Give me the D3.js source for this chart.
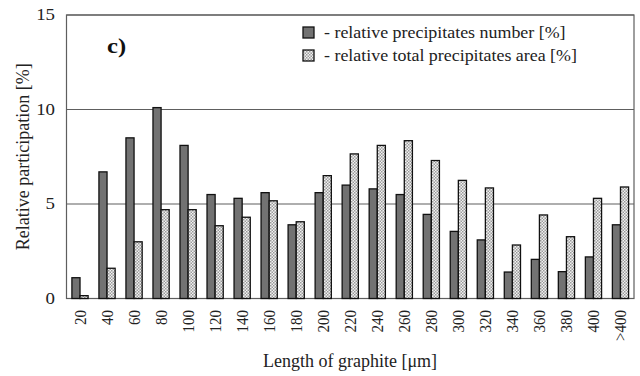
<!DOCTYPE html>
<html>
<head>
<meta charset="utf-8">
<script src="https://cdn.jsdelivr.net/npm/d3@7"></script>
<style>
  body { margin: 0; background: #fff; }
  svg { display: block; font-family: "Liberation Serif", "DejaVu Serif", serif; }
</style>
</head>
<body>
<svg width="640" height="376"></svg>
<script>
const categories = ["20", "40", "60", "80", "100", "120", "140", "160", "180", "200", "220",
  "240", "260", "280", "300", "320", "340", "360", "380", "400", ">400"]
const numberValues = [1.1, 6.7, 8.5, 10.1, 8.1, 5.5, 5.3, 5.6, 3.9, 5.6, 6.0,
  5.8, 5.5, 4.45, 3.55, 3.1, 1.4, 2.07, 1.42, 2.2, 3.9]
const areaValues = [0.15, 1.6, 3.0, 4.7, 4.7, 3.85, 4.3, 5.17, 4.06, 6.5, 7.65,
  8.1, 8.35, 7.3, 6.25, 5.85, 2.83, 4.42, 3.27, 5.3, 5.9]
const yTicks = [0, 5, 10, 15]
const seriesNames = ["- relative precipitates number [%]", "- relative total precipitates area [%]"]

const LEFT = 66.5, RIGHT = 634, TOP = 15, BOTTOM = 298.5
// the scanned figure is a bit wider than tall, so text glyphs are stretched
const STRETCH = 1.18

const svg = d3.select("svg")

// checkered fill for the area series
const defs = svg.append("defs")
const pat = defs.append("pattern")
  .attr("id", "checker")
  .attr("width", 3).attr("height", 3)
  .attr("patternUnits", "userSpaceOnUse")
pat.append("rect").attr("width", 3).attr("height", 3).attr("fill", "#f2f2f2")
pat.append("rect").attr("width", 1.5).attr("height", 1.5).attr("fill", "#9a9a9a")
pat.append("rect").attr("x", 1.5).attr("y", 1.5).attr("width", 1.5).attr("height", 1.5).attr("fill", "#9a9a9a")

const x = d3.scaleBand().domain(categories).range([LEFT, RIGHT]).paddingInner(0.4).paddingOuter(0.2)
const y = d3.scaleLinear().domain([0, 15]).range([BOTTOM, TOP])

// gridlines
svg.append("g")
  .selectAll("line")
  .data(yTicks.filter((t) => t > 0))
  .enter()
  .append("line")
  .attr("x1", LEFT).attr("x2", RIGHT)
  .attr("y1", (d) => y(d)).attr("y2", (d) => y(d))
  .attr("stroke", "#5e5e5e").attr("stroke-width", 1.2)

// frame
svg.append("rect")
  .attr("x", LEFT).attr("y", TOP)
  .attr("width", RIGHT - LEFT).attr("height", BOTTOM - TOP)
  .attr("fill", "none").attr("stroke", "#5e5e5e").attr("stroke-width", 1.2)

// y tick labels
svg.append("g")
  .selectAll("text")
  .data(yTicks)
  .enter()
  .append("text")
  .attr("transform", (d) => `translate(55,${y(d) + 5}) scale(${STRETCH},1)`)
  .attr("text-anchor", "end")
  .attr("font-size", 16)
  .attr("fill", "#222")
  .text((d) => d)

// bars
const bw = x.bandwidth() / 2
svg.append("g")
  .selectAll("rect")
  .data(numberValues)
  .enter()
  .append("rect")
  .attr("x", (d, i) => x(categories[i]))
  .attr("y", (d) => y(d))
  .attr("width", bw)
  .attr("height", (d) => BOTTOM - y(d))
  .attr("fill", "#727272")
  .attr("stroke", "#111").attr("stroke-width", 1.3)

svg.append("g")
  .selectAll("rect")
  .data(areaValues)
  .enter()
  .append("rect")
  .attr("x", (d, i) => x(categories[i]) + bw)
  .attr("y", (d) => y(d))
  .attr("width", bw)
  .attr("height", (d) => BOTTOM - y(d))
  .attr("fill", "url(#checker)")
  .attr("stroke", "#111").attr("stroke-width", 1.3)

// x tick labels, rotated
svg.append("g")
  .selectAll("text")
  .data(categories)
  .enter()
  .append("text")
  .attr("transform", (d) => `translate(${x(d) + x.bandwidth() / 2 + 6},${310}) rotate(-90) scale(1,${STRETCH})`)
  .attr("text-anchor", "end")
  .attr("font-size", 15)
  .attr("fill", "#222")
  .text((d) => d)

// axis titles
svg.append("text")
  .attr("transform", `translate(29,${(TOP + BOTTOM) / 2}) rotate(-90)`)
  .attr("text-anchor", "middle")
  .attr("font-size", 18)
  .attr("fill", "#222")
  .text("Relative participation [%]")

svg.append("text")
  .attr("x", 350).attr("y", 367)
  .attr("text-anchor", "middle")
  .attr("font-size", 18)
  .attr("fill", "#222")
  .text("Length of graphite [μm]")

// panel label
svg.append("text")
  .attr("transform", `translate(107,53) scale(1.12,1)`)
  .attr("font-size", 22).attr("font-weight", "bold")
  .attr("fill", "#111")
  .text("c)")

// legend
const legend = svg.append("g")
seriesNames.forEach((name, i) => {
  legend.append("rect")
    .attr("x", 303).attr("y", 27 + i * 23)
    .attr("width", 11).attr("height", 11)
    .attr("fill", i === 0 ? "#727272" : "url(#checker)")
    .attr("stroke", "#111").attr("stroke-width", 1.3)
  legend.append("text")
    .attr("transform", `translate(324,${38 + i * 23}) scale(1.12,1)`)
    .attr("font-size", 16)
    .attr("fill", "#222")
    .text(name)
})
</script>
</body>
</html>
